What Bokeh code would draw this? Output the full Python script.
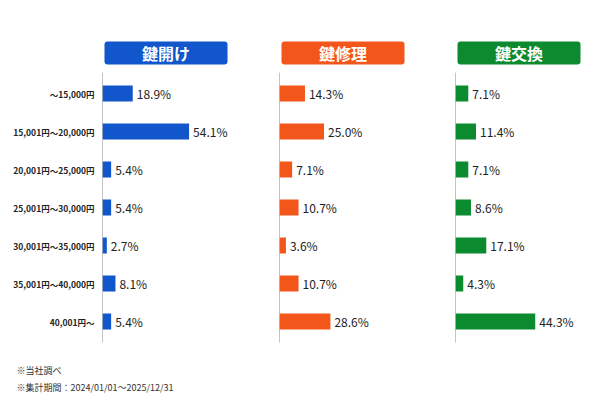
from bokeh.plotting import figure
from bokeh.layouts import row, column
from bokeh.models import Range1d, Label, BoxAnnotation, ColumnDataSource, FixedTicker
from bokeh.core.properties import value
from bokeh.embed import file_html
from bokeh.resources import INLINE

categories = ["～15,000円", "15,001円～20,000円", "20,001円～25,000円", "25,001円～30,000円",
              "30,001円～35,000円", "35,001円～40,000円", "40,001円～"]
unlock = [18.9, 54.1, 5.4, 5.4, 2.7, 8.1, 5.4]
repair = [14.3, 25.0, 7.1, 10.7, 3.6, 10.7, 28.6]
replace = [7.1, 11.4, 7.1, 8.6, 17.1, 4.3, 44.3]
titles = ["鍵開け", "鍵修理", "鍵交換"]
notes = ["※当社調べ", "※集計期間：2024/01/01～2025/12/31"]

colors = ["#1156CB", "#F2561A", "#0C8A30"]
FONT = "Noto Sans CJK JP"
PANEL_H = 350
ROW_PX = 38.0       # pixel height of one category row
FIRST_PX = 93.0     # pixel centre of first row
N = len(categories)
Y_TOP = -FIRST_PX / ROW_PX
Y_BOT = (PANEL_H - FIRST_PX) / ROW_PX


def px_to_y(px):
    return (px - FIRST_PX) / ROW_PX


def make_panel(vals, title, color, width, border_left, xmax, show_labels):
    p = figure(width=width, height=PANEL_H, output_backend="svg", toolbar_location=None,
               y_range=Range1d(Y_BOT, Y_TOP), x_range=Range1d(0, xmax),
               min_border_left=border_left, min_border_right=0,
               min_border_top=0, min_border_bottom=0)
    p.outline_line_color = None
    p.background_fill_color = "white"
    p.border_fill_color = "white"
    p.xgrid.visible = False
    p.ygrid.visible = False
    p.xaxis.visible = False
    if show_labels:
        ax = p.yaxis[0]
        ax.ticker = FixedTicker(ticks=list(range(N)))
        ax.major_label_overrides = {i: c for i, c in enumerate(categories)}
        ax.axis_line_color = None
        ax.major_tick_line_color = None
        ax.minor_tick_line_color = None
        ax.major_tick_out = 0
        ax.major_tick_in = 0
        ax.major_label_text_font = FONT
        ax.major_label_text_font_size = "8.5px"
        ax.major_label_text_font_style = "bold"
        ax.major_label_text_color = "#222222"
        ax.major_label_standoff = 8
    else:
        p.yaxis.visible = False

    # vertical baseline
    p.segment(x0=[0], y0=[-0.55], x1=[0], y1=[N - 1 + 0.55], line_color="#888888", line_width=1)

    idx = list(range(N))
    src = ColumnDataSource(dict(y=idx, val=vals, lab=[f"{v:.1f}%" for v in vals]))
    p.hbar(y="y", right="val", left=0, height=0.42, source=src,
           fill_color=color, line_color=None)
    p.text(x="val", y="y", text="lab", source=src, x_offset=4,
           text_baseline="middle", text_align="left", text_font=value(FONT),
           text_font_size="12px", text_color="#222222")

    # header box
    box = BoxAnnotation(left=2, right=125, left_units="screen", right_units="screen",
                        top=px_to_y(41), bottom=px_to_y(64),
                        fill_color=color, fill_alpha=1.0, line_color=None,
                        border_radius=3)
    p.add_layout(box)
    p.add_layout(Label(x=63.5, y=px_to_y(52.5), x_units="screen", y_units="data",
                       text=title, text_align="center", text_baseline="middle",
                       text_font=FONT, text_font_size="16px", text_font_style="bold",
                       text_color="white"))
    return p


p1 = make_panel(unlock, titles[0], colors[0], 270, 102, 168 / 1.6, True)
p2 = make_panel(repair, titles[1], colors[1], 176, 9, 167 / 1.78, False)
p3 = make_panel(replace, titles[2], colors[2], 154, 9, 145 / 1.8, False)

foot = figure(width=600, height=400 - PANEL_H, output_backend="svg", toolbar_location=None,
              x_range=Range1d(0, 600), y_range=Range1d(400 - PANEL_H, 0),
              min_border=0)
foot.outline_line_color = None
foot.axis.visible = False
foot.grid.visible = False
foot.text(x=[16, 16], y=[20, 37], text=notes, text_baseline="middle", text_align="left",
          text_font=value(FONT), text_font_size="9px", text_color="#333333")

layout = column(row(p1, p2, p3), foot)
open("out.html", "w").write(file_html(layout, INLINE))
